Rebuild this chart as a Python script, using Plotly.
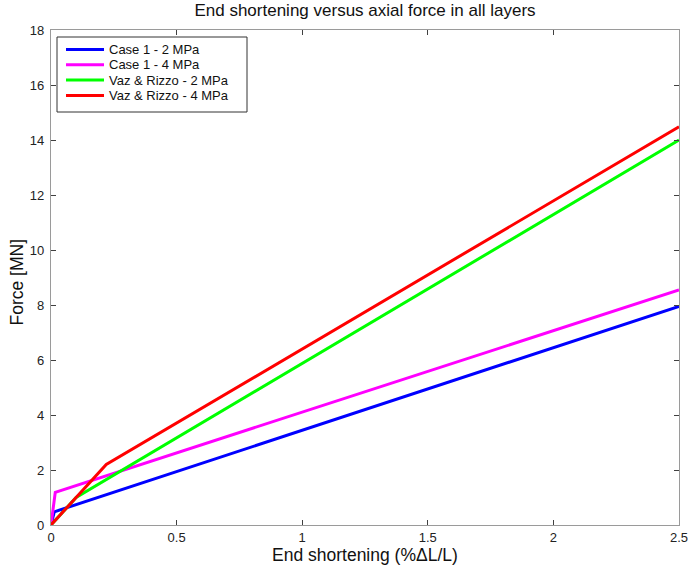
import plotly.graph_objects as go

# End shortening (%) and axial force (MN) for each case
case1_2mpa_x = [0.0, 0.013, 2.5]
case1_2mpa_y = [0.0, 0.48, 7.95]
case1_4mpa_x = [0.0, 0.017, 2.5]
case1_4mpa_y = [0.0, 1.19, 8.55]
vaz_2mpa_x = [0.0, 0.10, 2.5]
vaz_2mpa_y = [0.0, 1.0, 14.0]
vaz_4mpa_x = [0.0, 0.22, 2.5]
vaz_4mpa_y = [0.0, 2.2, 14.48]

series_names = ["Case 1 - 2 MPa", "Case 1 - 4 MPa",
                "Vaz & Rizzo - 2 MPa", "Vaz & Rizzo - 4 MPa"]
series_colors = ["#0000ff", "#ff00ff", "#00ff00", "#ff0000"]
series_x = [case1_2mpa_x, case1_4mpa_x, vaz_2mpa_x, vaz_4mpa_x]
series_y = [case1_2mpa_y, case1_4mpa_y, vaz_2mpa_y, vaz_4mpa_y]

x_ticks = [0, 0.5, 1, 1.5, 2, 2.5]
x_tick_text = ["0", "0.5", "1", "1.5", "2", "2.5"]
y_ticks = [0, 2, 4, 6, 8, 10, 12, 14, 16, 18]

W, H = 689, 569
ML, MR, MT, MB = 51, 10, 30, 44
PW, PH = W - ML - MR, H - MT - MB


def px_x(p):
    """Pixel column -> paper x fraction."""
    return (p - ML) / PW


def px_y(p):
    """Pixel row -> paper y fraction."""
    return (H - MB - p) / PH


fig = go.Figure()
for name, xs, ys, color in zip(series_names, series_x, series_y, series_colors):
    fig.add_trace(go.Scatter(x=xs, y=ys, mode="lines", name=name,
                             line=dict(color=color, width=3), showlegend=False))

# Boxed legend in the upper-left corner
shapes = [dict(type="rect", xref="paper", yref="paper",
               x0=px_x(57), x1=px_x(247), y0=px_y(112), y1=px_y(37),
               line=dict(color="#333", width=1), fillcolor="white", layer="above")]
annotations = []
for i, (name, color) in enumerate(zip(series_names, series_colors)):
    row = 49.5 + 15.3 * i
    shapes.append(dict(type="line", xref="paper", yref="paper",
                       x0=px_x(66), x1=px_x(104), y0=px_y(row), y1=px_y(row),
                       line=dict(color=color, width=3), layer="above"))
    annotations.append(dict(text=name, xref="paper", yref="paper",
                            x=px_x(107), y=px_y(row), xanchor="left", yanchor="middle",
                            showarrow=False, font=dict(size=13, color="#111")))

# Axis titles
annotations.append(dict(text="End shortening (%ΔL/L)", xref="paper", yref="paper",
                        x=0.5, y=0, yshift=-(555 - (H - MB)), xanchor="center",
                        yanchor="middle", showarrow=False,
                        font=dict(size=17.5, color="#111")))
annotations.append(dict(text="Force [MN]", xref="paper", yref="paper",
                        x=0, xshift=-(ML - 16.5), y=px_y(282), xanchor="center",
                        yanchor="middle", textangle=-90, showarrow=False,
                        font=dict(size=17.5, color="#111")))

axis_common = dict(showgrid=False, zeroline=False, showline=True, mirror="ticks",
                   linecolor="#9a9a9a", linewidth=1.3, ticks="inside", ticklen=5,
                   tickcolor="#404040", tickfont=dict(size=13, color="#222"),
                   automargin=False)

fig.update_layout(
    width=W, height=H,
    margin=dict(l=ML, r=MR, t=MT, b=MB),
    paper_bgcolor="white", plot_bgcolor="white",
    font=dict(family="Liberation Sans, Arial, sans-serif", color="#111"),
    title=dict(text="End shortening versus axial force in all layers",
               x=0.5, xref="paper", xanchor="center", y=1 - 10 / H, yref="container",
               yanchor="middle", automargin=False,
               font=dict(size=17, color="#111")),
    xaxis=dict(range=[0, 2.5], tickvals=x_ticks, ticktext=x_tick_text,
               ticklabelstandoff=0, **axis_common),
    yaxis=dict(range=[0, 18], tickvals=y_ticks, ticklabelstandoff=3,
               **axis_common),
    shapes=shapes,
    annotations=annotations,
    showlegend=False,
)

fig.write_html("out.html")
